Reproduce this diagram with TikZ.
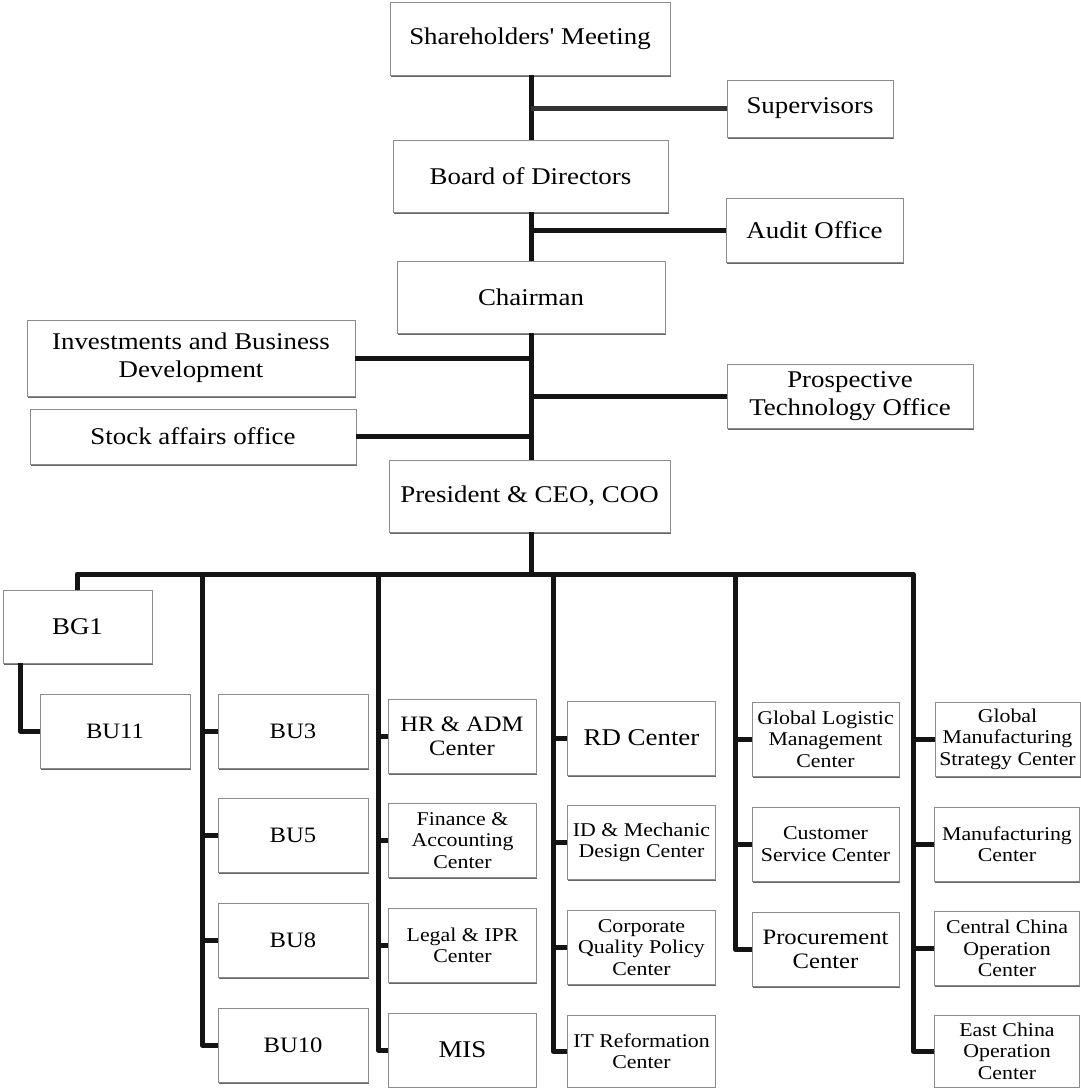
\documentclass[tikz,border=0pt]{standalone}
\usepackage{fontspec}
\setmainfont{Liberation Serif}[FakeStretch=1.12, Ligatures=TeXOff]
\usetikzlibrary{shadows}
\begin{document}
\begin{tikzpicture}[x=1pt,y=-1pt,
  box/.style={draw=black!45, line width=0.8pt, fill=white, align=center, inner sep=2pt,
    drop shadow={shadow xshift=0.7pt, shadow yshift=-1.8pt, fill=black!60, opacity=1}},
  top/.style={box, font=\fontsize{24}{28}\selectfont},
  low/.style={box, font=\fontsize{19.5}{21.5}\selectfont, minimum width=148pt, minimum height=74pt},
  big/.style={font=\fontsize{22}{24}\selectfont},
  link/.style={line width=5pt, draw=black!92, line join=round},
]
\useasboundingbox (0,0) rectangle (1081,1088);

% governance chain
\node[top, minimum width=280pt, minimum height=73pt] (sm) at (530,38.5) {Shareholders' Meeting};
\node[top, minimum width=166pt, minimum height=57pt] (sup) at (810,108.5) {Supervisors};
\node[top, minimum width=275pt, minimum height=72pt] (bod) at (530.5,176) {Board of Directors};
\node[top, minimum width=177pt, minimum height=64pt] (aud) at (814.5,230) {Audit Office};
\node[top, minimum width=268pt, minimum height=72pt] (chair) at (531,297) {Chairman};
\node[top, minimum width=328pt, minimum height=76pt] (inv) at (191,358) {Investments and Business\\Development};
\node[top, minimum width=246pt, minimum height=64pt] (pto) at (850,396) {Prospective\\Technology Office};
\node[top, minimum width=326pt, minimum height=55pt] (stock) at (193,436.5) {Stock affairs office};
\node[top, minimum width=281pt, minimum height=72pt] (pres) at (529.5,496) {President \& CEO, COO};

% business groups and units
\node[top, minimum width=149pt, minimum height=73pt] (bg1) at (77.5,626.5) {BG1};
\node[low, big, minimum width=150pt] (bu11) at (115,731) {BU11};
\node[low, big, minimum width=150pt] (bu3) at (293,731) {BU3};
\node[low, big, minimum width=150pt] (bu5) at (293,835) {BU5};
\node[low, big, minimum width=150pt] (bu8) at (293,940) {BU8};
\node[low, big, minimum width=150pt] (bu10) at (293,1045) {BU10};

% corporate centers
\node[low, big] (hr) at (462,736) {HR \& ADM\\Center};
\node[low] (fin) at (462.5,840.5) {Finance \&\\Accounting\\Center};
\node[low] (legal) at (462.5,945.5) {Legal \& IPR\\Center};
\node[low, font=\fontsize{24}{26}\selectfont] (mis) at (462.5,1050) {MIS};

\node[low, font=\fontsize{24}{26}\selectfont] (rd) at (641.5,738) {RD Center};
\node[low] (id) at (641.5,842.5) {ID \& Mechanic\\Design Center};
\node[low] (cq) at (641.5,947.5) {Corporate\\Quality Policy\\Center};
\node[low, minimum height=72pt] (it) at (641.5,1051) {IT Reformation\\Center};

\node[low, minimum width=147pt] (gl) at (825.5,739) {Global Logistic\\Management\\Center};
\node[low, minimum width=147pt] (cs) at (825.5,844) {Customer\\Service Center};
\node[low, big, minimum width=147pt] (proc) at (825.5,949) {Procurement\\Center};

\node[low, minimum width=145pt] (gms) at (1007.5,739) {Global\\Manufacturing\\Strategy Center};
\node[low, minimum width=145pt] (mfg) at (1007,844) {Manufacturing\\Center};
\node[low, minimum width=145pt] (cc) at (1007,948.5) {Central China\\Operation\\Center};
\node[low, minimum width=145pt, minimum height=72pt] (ec) at (1007,1051) {East China\\Operation\\Center};

% trunk and bus
\coordinate (bus) at (531,574);
\coordinate (c0) at (77,574);
\coordinate (c1) at (202,574);
\coordinate (c2) at (378,574);
\coordinate (c3) at (553,574);
\coordinate (c4) at (735,574);
\coordinate (c5) at (913,574);

\draw[link] (sm.south -| bus) -- (bod.north -| bus);
\draw[link] (bod.south -| bus) -- (chair.north -| bus);
\draw[link] (chair.south -| bus) -- (pres.north -| bus);
\draw[link] (pres.south -| bus) -- (bus);

% staff offices
\draw[link, draw=black!80] (sup.west -| bus) -- (sup.west);
\draw[link] (aud.west -| bus) -- (aud.west);
\draw[link] (inv.east) -- (inv.east -| bus);
\draw[link] (pto.west -| bus) -- (pto.west);
\draw[link] (stock.east) -- (stock.east -| bus);

% horizontal bus with its two end columns
\draw[link] (c0 |- bg1.north) |- (c5) |- (ec.west);
\draw[link] ([xshift=-57.5pt]bg1.south) |- (bu11.west);

% columns
\draw[link] (c1) |- (bu10.west);
\foreach \n in {bu3,bu5,bu8} \draw[link] (c1 |- \n.west) -- (\n.west);
\draw[link] (c2) |- (mis.west);
\foreach \n in {hr,fin,legal} \draw[link] (c2 |- \n.west) -- (\n.west);
\draw[link] (c3) |- (it.west);
\foreach \n in {rd,id,cq} \draw[link] (c3 |- \n.west) -- (\n.west);
\draw[link] (c4) |- (proc.west);
\foreach \n in {gl,cs} \draw[link] (c4 |- \n.west) -- (\n.west);
\foreach \n in {gms,mfg,cc} \draw[link] (c5 |- \n.west) -- (\n.west);
\end{tikzpicture}
\end{document}
